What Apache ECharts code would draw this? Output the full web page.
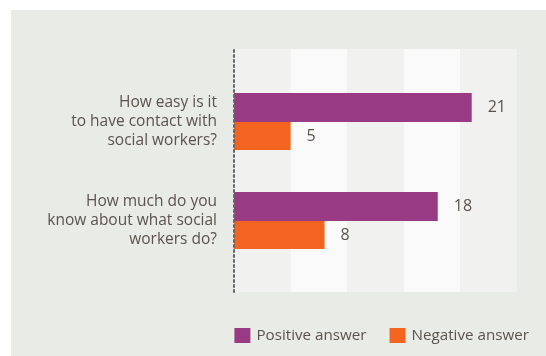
<!DOCTYPE html>
<html>
<head>
<meta charset="utf-8">
<script src="https://cdn.jsdelivr.net/npm/echarts@6/dist/echarts.min.js"></script>
<style>
  html, body { margin: 0; padding: 0; background: #ffffff; }
  #chart { width: 546px; height: 356px; }
</style>
</head>
<body>
<div id="chart"></div>
<script>
// Survey questions and answer counts
const questions = [
  'How easy is it\nto have contact with\nsocial workers?',
  'How much do you\nknow about what social\nworkers do?'
];
const positiveAnswers = [21, 18];
const negativeAnswers = [5, 8];
const seriesNames = ['Positive answer', 'Negative answer'];
const axisMax = 25;
const axisStep = 5;

const textColor = '#5b534d';
const fontFamily = '"Open Sans", "Noto Sans", sans-serif';

const chart = echarts.init(document.getElementById('chart'));

const valueLabel = {
  show: true,
  position: 'right',
  distance: 16,
  color: textColor,
  fontSize: 16,
  fontFamily: fontFamily
};

chart.setOption({
  animation: false,
  backgroundColor: '#ffffff',
  graphic: [{
    type: 'rect',
    z: -10,
    shape: { x: 11, y: 10, width: 535, height: 346 },
    style: { fill: '#e9ebe6' }
  }],
  grid: [
    // background panel with alternating bands
    { left: 234, right: 29, top: 49, bottom: 64 },
    // bar area
    { left: 234, right: 29, top: 72, bottom: 86 }
  ],
  xAxis: [
    {
      gridIndex: 0, type: 'value', min: 0, max: axisMax, interval: axisStep,
      axisLine: { show: false }, axisTick: { show: false }, axisLabel: { show: false },
      splitLine: { show: false },
      splitArea: { show: true, areaStyle: { color: ['#f1f2ef', '#fafafa'] } }
    },
    {
      gridIndex: 1, type: 'value', min: 0, max: axisMax, interval: axisStep,
      axisLine: { show: false }, axisTick: { show: false }, axisLabel: { show: false },
      splitLine: { show: false }
    }
  ],
  yAxis: [
    {
      gridIndex: 0, type: 'category', data: [''],
      axisLine: { show: true, lineStyle: { color: '#666666', width: 2, type: [2, 3] } },
      axisTick: { show: false }, axisLabel: { show: false }, z: 5
    },
    {
      gridIndex: 1, type: 'category', data: questions, inverse: true,
      axisLine: { show: false }, axisTick: { show: false },
      axisLabel: {
        margin: 17, color: textColor, fontSize: 15.5, lineHeight: 19,
        fontFamily: fontFamily, align: 'right'
      }
    }
  ],
  legend: {
    data: seriesNames,
    right: 12,
    top: 323,
    itemWidth: 16,
    itemHeight: 15,
    itemGap: 23,
    icon: 'rect',
    textStyle: { color: textColor, fontSize: 15.2, fontFamily: fontFamily, padding: [0, 0, 0, 1] }
  },
  series: [
    {
      name: seriesNames[0], type: 'bar', xAxisIndex: 1, yAxisIndex: 1,
      data: positiveAnswers, barWidth: 29, barGap: '0%',
      itemStyle: { color: '#993b84' }, label: valueLabel
    },
    {
      name: seriesNames[1], type: 'bar', xAxisIndex: 1, yAxisIndex: 1,
      data: negativeAnswers, barWidth: 28, barGap: '0%',
      itemStyle: { color: '#f36421' }, label: valueLabel
    }
  ]
});
</script>
</body>
</html>
